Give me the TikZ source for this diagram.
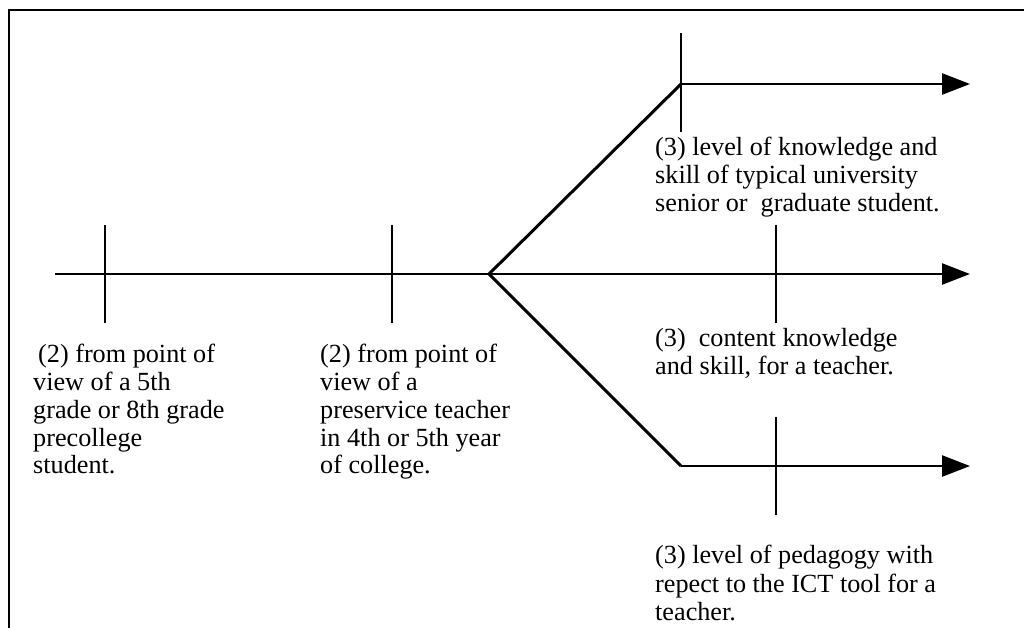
\documentclass[tikz,border=0pt]{standalone}
\usepackage{fontspec}
\setmainfont{Liberation Serif}
\usetikzlibrary{arrows.meta}
\begin{document}
\begin{tikzpicture}[x=1pt,y=-1pt,
  ln/.style={line width=2.5pt},
  br/.style={line width=3pt, line join=miter},
  tip/.style={-{Triangle[length=28pt,width=21pt]}},
  tick/.style={line width=2.5pt},
  lbl/.style={anchor=north west, inner sep=0pt, align=left, font=\fontsize{26.2}{27.8}\selectfont}]
\useasboundingbox (0,0) rectangle (1024,627);
% frame (only top and left edges are visible)
\coordinate (fb) at (9,640);
\coordinate (fc) at (9,10);
\coordinate (fr) at (1040,10);
\draw[line width=2.8pt] (fb) -- (fc) -- (fr);
% main line points
\coordinate (s) at (55,274);
\coordinate (b) at (489,274);
\coordinate (me) at (970,274);
\coordinate (uc) at (681,84);
\coordinate (ue) at (970,84);
\coordinate (lc) at (681,466);
\coordinate (le) at (970,466);
\draw[ln,tip] (s) -- (me);
\draw[br] (b) -- (uc);
\draw[ln,tip] (uc) -- (ue);
\draw[br] (b) -- (lc);
\draw[ln,tip] (lc) -- (le);
% ticks
\coordinate (t1a) at (105,225); \coordinate (t1b) at (105,323);
\coordinate (t2a) at (392,225); \coordinate (t2b) at (392,323);
\coordinate (t3a) at (681,33);  \coordinate (t3b) at (681,132);
\coordinate (t4a) at (776,225); \coordinate (t4b) at (776,323);
\coordinate (t5a) at (776,417); \coordinate (t5b) at (776,515);
\draw[tick] (t1a) -- (t1b);
\draw[tick] (t2a) -- (t2b);
\draw[tick] (t3a) -- (t3b);
\draw[tick] (t4a) -- (t4b);
\draw[tick] (t5a) -- (t5b);
% labels
\node[lbl] (l1) at (33,344) {\hspace*{5pt}(2) from point of\\view of a 5th\\grade or 8th grade\\precollege\\student.};
\node[lbl] (l2) at (320,344) {(2) from point of\\view of a\\preservice teacher\\in 4th or 5th year\\of college.};
\node[lbl] (l3) at (655,137) {(3) level of knowledge and\\skill of typical university\\senior or\ \ graduate student.};
\node[lbl] (l4) at (655,328) {(3)\ \ content knowledge\\and skill, for a teacher.};
\node[lbl, font=\fontsize{26.2}{28.5}\selectfont] (l5) at (655,545) {(3) level of pedagogy with\\repect to the ICT tool for a\\teacher.};
\end{tikzpicture}
\end{document}
